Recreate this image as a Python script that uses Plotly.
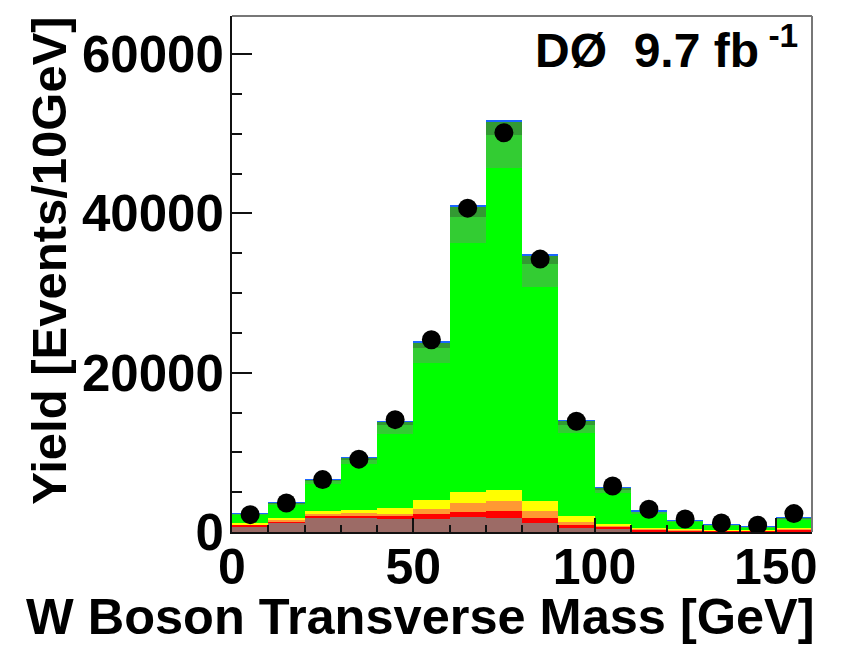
import plotly.graph_objects as go

# bin centres (GeV), 10 GeV bins from 0 to 160
bin_centers = [5, 15, 25, 35, 45, 55, 65, 75, 85, 95, 105, 115, 125, 135, 145, 155]

# stacked components (bottom to top), events / 10 GeV
brown  = [720, 1180, 1800, 1760, 1680, 1680, 1850, 1760, 1090, 550, 340, 100, 60, 50, 30, 100]
red    = [200, 200, 260, 210, 290, 540, 660, 840, 670, 290, 290, 200, 150, 150, 100, 200]
orange = [80, 180, 300, 400, 340, 630, 1090, 1340, 880, 420, 120, 80, 60, 40, 30, 80]
yellow = [130, 200, 240, 350, 750, 1130, 1380, 1380, 1210, 710, 300, 170, 150, 60, 50, 170]
green  = [1060, 1680, 3450, 5770, 9310, 17230, 31305, 40410, 26980, 10420, 3910, 1800, 905, 540, 400, 1080]
mgreen = [100, 170, 360, 600, 1050, 1930, 3260, 4100, 2800, 1100, 400, 190, 95, 55, 40, 110]
dgreen = [45, 70, 150, 250, 420, 710, 1340, 1760, 1150, 450, 170, 80, 40, 25, 15, 45]
blue   = [15, 20, 40, 60, 90, 120, 125, 170, 120, 80, 40, 20, 10, 10, 5, 15]

# data points
data = [2180, 3640, 6580, 9150, 14110, 24150, 40670, 50130, 34270, 13900, 5770, 2850, 1630, 1130, 850, 2310]

# axis ticks
x_ticks = [0, 50, 100, 150]
y_ticks = [0, 20000, 40000, 60000]
y_ticktext = ["0", "20000", "40000", "60000"]

layers = [
    ("brown", brown, "#9c6b66"),
    ("red", red, "#ff0000"),
    ("orange", orange, "#ff9933"),
    ("yellow", yellow, "#ffff00"),
    ("green", green, "#00ff00"),
    ("mgreen", mgreen, "#33cc33"),
    ("dgreen", dgreen, "#339933"),
    ("blue", blue, "#1a66ff"),
]

fig = go.Figure()
for name, vals, col in layers:
    fig.add_trace(go.Bar(x=bin_centers, y=vals, name=name, width=10,
                         marker=dict(color=col, line=dict(width=0)),
                         showlegend=False))

fig.add_trace(go.Scatter(x=bin_centers, y=data, mode="markers",
                         marker=dict(color="black", size=19),
                         showlegend=False))

FONT = "Liberation Sans, Arial, Helvetica, sans-serif"

fig.update_layout(
    width=848, height=645,
    barmode="stack", bargap=0,
    margin=dict(l=224, r=44, t=8, b=121),
    paper_bgcolor="white", plot_bgcolor="white",
    font=dict(family=FONT, color="black"),
    xaxis=dict(range=[0, 160], tickvals=x_ticks, ticks="inside", automargin=False,
               ticklen=14, tickwidth=2, tickcolor="#111",
               minor=dict(dtick=10, ticks="inside", ticklen=7, tickwidth=2, tickcolor="#111"),
               showgrid=False, zeroline=False, showline=True, linecolor="#111", linewidth=2,
               tickfont=dict(size=50, weight="bold", family=FONT), ticklabelstandoff=-10),
    yaxis=dict(range=[0, 64800], tickvals=y_ticks, ticktext=y_ticktext, ticks="inside",
               automargin=False,
               ticklen=20, tickwidth=2, tickcolor="#111",
               minor=dict(dtick=5000, ticks="inside", ticklen=10, tickwidth=2, tickcolor="#111"),
               showgrid=False, zeroline=False, showline=True, linecolor="#111", linewidth=2,
               tickfont=dict(size=51, weight="bold", family=FONT), ticklabelstandoff=-4),
    shapes=[
        dict(type="line", xref="paper", yref="paper", x0=0, x1=1, y0=1, y1=1,
             line=dict(color="#777", width=2)),
        dict(type="line", xref="paper", yref="paper", x0=1, x1=1, y0=0, y1=1,
             line=dict(color="#777", width=2)),
    ],
    annotations=[
        dict(text="Yield [Events/10GeV]", textangle=-90, xref="paper", yref="paper",
             x=-0.316, y=1.002, xanchor="center", yanchor="top", showarrow=False,
             font=dict(size=49, weight="bold", family=FONT)),
        dict(text="W Boson Transverse Mass [GeV]", xref="paper", yref="paper",
             x=1.008, y=-0.163, xanchor="right", yanchor="middle", showarrow=False,
             font=dict(size=50.5, weight="bold", family=FONT)),
        dict(text="DØ  9.7 fb<sup> -1</sup>", xref="paper", yref="paper",
             x=0.979, y=0.94, xanchor="right", yanchor="middle", showarrow=False,
             font=dict(size=48, weight="bold", family=FONT)),
    ],
)

fig.write_html("out.html")
